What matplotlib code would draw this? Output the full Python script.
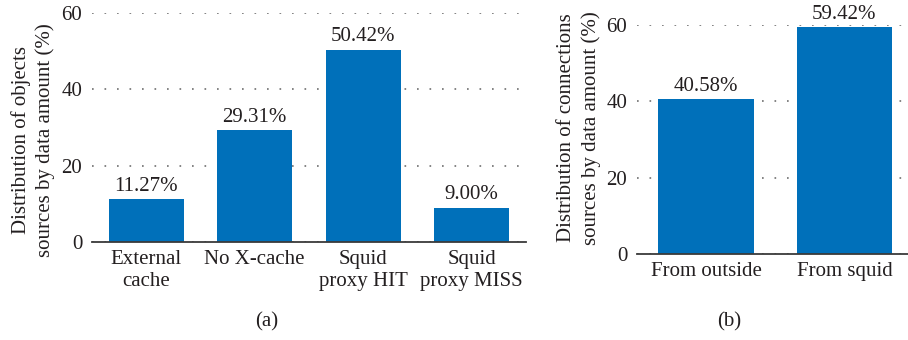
import matplotlib
matplotlib.use("Agg")
import matplotlib.pyplot as plt

# Panel (a): objects sources by data amount
obj_labels = ["External\ncache", "No X-cache", "Squid\nproxy HIT", "Squid\nproxy MISS"]
obj_values = [11.27, 29.31, 50.42, 9.00]

# Panel (b): connections sources by data amount
conn_labels = ["From outside", "From squid"]
conn_values = [40.58, 59.42]

yticks = [0, 20, 40, 60]

BAR = "#0070ba"
TXT = "#231f20"
W, H = 908, 340
FS = 15

plt.rcParams["font.family"] = ["Liberation Serif", "DejaVu Serif"]
plt.rcParams["font.size"] = FS
plt.rcParams["text.color"] = TXT

fig = plt.figure(figsize=(W / 100, H / 100), dpi=100)


def px_axes(x0, x1, y_top, y_bot):
    return fig.add_axes([x0 / W, 1 - y_bot / H, (x1 - x0) / W, (y_bot - y_top) / H])


def style(ax, labels, values, xmax):
    x = list(range(len(values)))
    ax.bar(x, values, width=0.69, color=BAR, zorder=3)
    ax.set_xlim(-0.5, xmax)
    ax.set_ylim(0, 60)
    ax.set_yticks(yticks)
    ax.set_xticks(x)
    ax.set_xticklabels(labels, linespacing=1.2)
    for s in ("top", "right", "left"):
        ax.spines[s].set_visible(False)
    ax.spines["bottom"].set_color("#3a3a3a")
    ax.spines["bottom"].set_linewidth(1.3)
    ax.spines["bottom"].set_zorder(4)
    ax.tick_params(axis="both", length=0, colors=TXT, labelsize=FS)
    ax.tick_params(axis="y", pad=7)
    ax.tick_params(axis="x", pad=6)
    ax.yaxis.grid(True, color="#6e6e6e", linestyle=(0, (1, 6.5)), linewidth=1.2, zorder=0)
    ax.set_axisbelow(True)
    for xi, v in zip(x, values):
        ax.annotate(f"{v:.2f}%", (xi, v), xytext=(0, 2.5), textcoords="offset points",
                    ha="center", va="bottom", fontsize=FS, color=TXT, clip_on=False)


ax1 = px_axes(92, 526, 13, 242)
style(ax1, obj_labels, obj_values, 3.5)

ax2 = px_axes(637, 908, 25, 254)
style(ax2, conn_labels, conn_values, 1.46)

fig.text(33 / W, 1 - 140 / H, "Distribution of objects\nsources by data amount (%)",
         rotation=90, ha="center", va="center", multialignment="center",
         fontsize=FS, linespacing=1.35)
fig.text(579 / W, 1 - 128 / H, "Distribution of connections\nsources by data amount (%)",
         rotation=90, ha="center", va="center", multialignment="center",
         fontsize=FS, linespacing=1.35)

fig.text(267 / W, 1 - 322 / H, "(a)", ha="center", va="center", fontsize=FS)
fig.text(729 / W, 1 - 322 / H, "(b)", ha="center", va="center", fontsize=FS)

fig.savefig("out.png", dpi=100, facecolor="white")
